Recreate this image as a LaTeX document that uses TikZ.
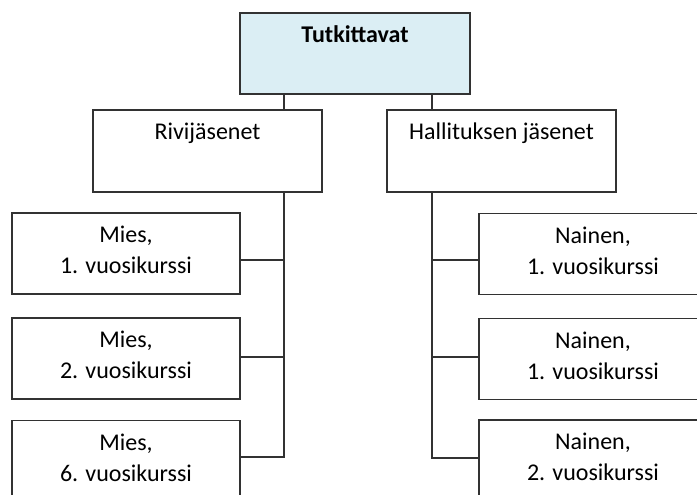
\documentclass[tikz,border=0pt]{standalone}
\usepackage{fontspec}
\setmainfont{Carlito}
\definecolor{boxline}{RGB}{50,50,50}
\definecolor{topfill}{RGB}{219,238,244}
\tikzset{
  orgbox/.style={draw=boxline, line width=1.4pt, fill=white, minimum width=#1, minimum height=81pt, inner sep=0pt},
  orgbox/.default=228pt,
  txt/.style={anchor=north, inner sep=0pt, yshift=-8.3pt, align=center, font=\fontsize{24}{31}\selectfont, text=black},
  conn/.style={draw=boxline, line width=1.4pt}
}
\begin{document}
\begin{tikzpicture}[x=1pt,y=-1pt]
\useasboundingbox (0,0) rectangle (697,495);
\clip (0,0) rectangle (697,495);
% connector columns
\coordinate (lx) at (284,0);
\coordinate (rx) at (432,0);
\node[orgbox=230pt, fill=topfill, label={[txt]north:\textbf{\strut Tutkittavat}}] (top) at (355,53.5) {};
\node[orgbox=229pt, minimum height=82pt, label={[txt]north:\strut Rivijäsenet}] (riv) at (207.5,151) {};
\node[orgbox=229pt, minimum height=82pt, label={[txt]north:\strut Hallituksen jäsenet}] (hal) at (501.5,151) {};
\node[orgbox, label={[txt]north:\strut Mies,\\1. vuosikurssi}] (m1) at (126,253.5) {};
\node[orgbox, label={[txt]north:\strut Mies,\\2. vuosikurssi}] (m2) at (126,358.5) {};
\node[orgbox, label={[txt]north:\strut Mies,\\6. vuosikurssi}] (m3) at (126,461) {};
\node[orgbox, label={[txt]north:\strut Nainen,\\1. vuosikurssi}] (n1) at (593,254) {};
\node[orgbox, label={[txt]north:\strut Nainen,\\1. vuosikurssi}] (n2) at (593,359) {};
\node[orgbox, label={[txt]north:\strut Nainen,\\2. vuosikurssi}] (n3) at (593,460.5) {};
% connectors
\draw[conn] (top.south -| lx) -- (riv.north -| lx);
\draw[conn] (top.south -| rx) -- (hal.north -| rx);
\draw[conn] (riv.south -| lx) |- ([yshift=4pt]m3.east);
\draw[conn] ([yshift=-6.5pt]m1.east) -- ([yshift=-6.5pt]m1.east -| lx);
\draw[conn] ([yshift=1.5pt]m2.east) -- ([yshift=1.5pt]m2.east -| lx);
\draw[conn] (hal.south -| rx) |- ([yshift=2.5pt]n3.west);
\draw[conn] ([yshift=-6pt]n1.west) -- ([yshift=-6pt]n1.west -| rx);
\draw[conn] ([yshift=2pt]n2.west) -- ([yshift=2pt]n2.west -| rx);
\end{tikzpicture}
\end{document}
